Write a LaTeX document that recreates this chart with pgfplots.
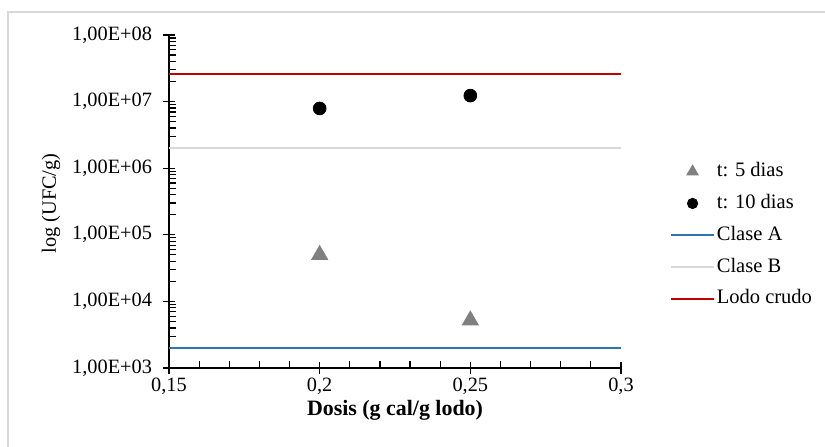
\documentclass[border=0pt]{standalone}
\usepackage{pgfplots}
\pgfplotsset{compat=1.18}
\usepackage{fontspec}
\setmainfont{Liberation Serif}

\definecolor{claseA}{RGB}{46,117,182}
\definecolor{claseB}{RGB}{217,217,217}
\definecolor{lodo}{RGB}{192,0,0}
\definecolor{tri}{RGB}{128,128,128}
\definecolor{frame}{RGB}{217,217,217}

% legend samples: a short line, or a single mark of the given size
\pgfplotsset{
  lineleg/.style={legend image code/.code={\draw[##1] (0bp,0bp) -- (21.5bp,0bp);}},
  markleg/.style={legend image code/.code={\draw[##1, mark size=#1] plot coordinates {(11bp,0bp)};}},
}

\begin{document}
\begin{tikzpicture}[x=1bp,y=1bp]
\useasboundingbox (0,0) rectangle (412.5,223.5);
\draw[frame, line width=1bp] (4,0) -- (4,217.5) -- (412.5,217.5);
\begin{axis}[
  at={(84.5bp,39.5bp)}, anchor=south west,
  scale only axis, width=226bp, height=166.5bp,
  xmin=0.15, xmax=0.3, ymin=1e3, ymax=1e8, ymode=log,
  axis x line*=bottom, axis y line*=left,
  axis line style={black, line width=0.6bp},
  xtick={0.15,0.2,0.25,0.3},
  xticklabels={{0,15},{0,2},{0,25},{0,3}},
  minor x tick num=4,
  ytick={1e3,1e4,1e5,1e6,1e7,1e8},
  yticklabels={{1,00E+03},{1,00E+04},{1,00E+05},{1,00E+06},{1,00E+07},{1,00E+08}},
  minor ytick={2e3,3e3,4e3,5e3,6e3,7e3,8e3,9e3,
               2e4,3e4,4e4,5e4,6e4,7e4,8e4,9e4,
               2e5,3e5,4e5,5e5,6e5,7e5,8e5,9e5,
               2e6,3e6,4e6,5e6,6e6,7e6,8e6,9e6,
               2e7,3e7,4e7,5e7,6e7,7e7,8e7,9e7},
  tick align=inside,
  major tick length=6bp, minor tick length=3.5bp,
  every tick/.style={black, line width=0.6bp},
  major x tick style={yshift=-3bp},
  major y tick style={xshift=-3bp},
  tick label style={font=\fontsize{10.2}{12}\selectfont},
  xticklabel style={yshift=-1.5bp},
  yticklabel style={xshift=-5bp},
  xlabel={\textbf{Dosis (g cal/g lodo)}},
  ylabel={log (UFC/g)},
  every axis x label/.style={at={(axis description cs:0.5,0)}, anchor=center, yshift=-21bp, font=\fontsize{11}{13}\selectfont},
  every axis y label/.style={at={(axis description cs:0,0.5)}, xshift=-59bp, yshift=-1bp, rotate=90, anchor=center, font=\fontsize{10.2}{12}\selectfont},
  legend style={at={(rel axis cs:1.106,0.619)}, anchor=north west, draw=none, fill=none,
    inner xsep=0pt, inner ysep=0pt, row sep=6.5bp, column sep=1bp,
    font=\fontsize{10.3}{12}\selectfont,
    nodes={inner sep=0pt, text height=7.2bp, text depth=2.2bp},
    cells={anchor=west}},
]
\addplot[only marks, mark=triangle*, mark size=4.6bp, color=tri, markleg=3.3bp]
  coordinates {(0.2,5e4) (0.25,5.2e3)};
\addlegendentry{t: 5 dias}
\addplot[only marks, mark=*, mark size=3.2bp, color=black, markleg=2.6bp]
  coordinates {(0.2,7.9e6) (0.25,1.23e7)};
\addlegendentry{t: 10 dias}
\addplot[claseA, line width=1bp, no marks, lineleg]
  coordinates {(0.15,2e3) (0.3,2e3)};
\addlegendentry{Clase A}
\addplot[claseB, line width=1bp, no marks, lineleg]
  coordinates {(0.15,2e6) (0.3,2e6)};
\addlegendentry{Clase B}
\addplot[lodo, line width=1.25bp, no marks, lineleg]
  coordinates {(0.15,2.6e7) (0.3,2.6e7)};
\addlegendentry{Lodo crudo}
\end{axis}
\end{tikzpicture}
\end{document}
